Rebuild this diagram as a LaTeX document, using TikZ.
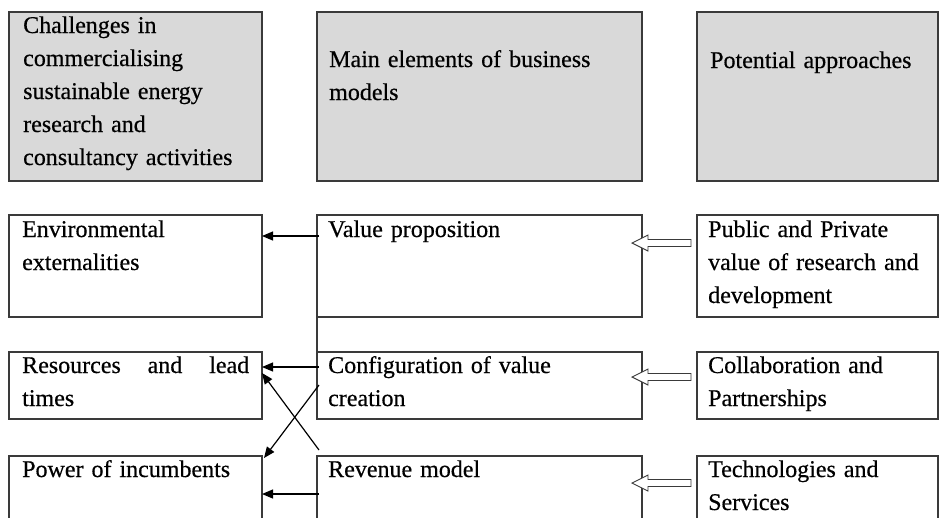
\documentclass[tikz,border=0pt]{standalone}
\usepackage{fontspec}
\setmainfont[FakeBold=0.5]{Liberation Serif}
\usetikzlibrary{arrows.meta}
\definecolor{hdrgray}{HTML}{D9D9D9}
\definecolor{edgegray}{HTML}{3A3A3A}
\begin{document}
\begin{tikzpicture}[x=1pt,y=-1pt,
  box/.style={draw=edgegray, line width=1.3pt, inner sep=0pt, outer sep=0pt, anchor=north west},
  hdr/.style={box, fill=hdrgray},
  txt/.style={anchor=base west, inner sep=0pt, text width=#1, align=left,
    font=\fontsize{24pt}{33pt}\selectfont},
  txt/.default=235pt,
  arr/.style={line width=1.2pt, black, -{Triangle[length=11pt,width=9pt]}},
  hollow/.style={draw=edgegray, line width=0.9pt, fill=white, line join=miter},
  blockarr/.pic={\draw[hollow] (-6,-3.5) -- (-49,-3.5) -- (-49,-8) -- (-65,0)
      -- (-49,8) -- (-49,3.5) -- (-6,3.5) -- cycle;}
]
\useasboundingbox (0,0) rectangle (939,517);
\clip (0,0) rectangle (939,517);

% header row
\node[hdr, minimum width=253pt, minimum height=169pt] (h1) at (9,12) {};
\node[hdr, minimum width=325pt, minimum height=169pt] (h2) at (317,12) {};
\node[hdr, minimum width=241pt, minimum height=169pt] (h3) at (697,12) {};

% row 1
\node[box, minimum width=253pt, minimum height=102pt] (l1) at (9,215) {};
\node[box, minimum width=325pt, minimum height=102pt] (m1) at (317,215) {};
\node[box, minimum width=241pt, minimum height=102pt] (r1) at (697,215) {};
% row 2
\node[box, minimum width=253pt, minimum height=67pt] (l2) at (9,352) {};
\node[box, minimum width=325pt, minimum height=67pt] (m2) at (317,352) {};
\node[box, minimum width=241pt, minimum height=67pt] (r2) at (697,352) {};
% row 3
\node[box, minimum width=253pt, minimum height=90pt] (l3) at (9,456) {};
\node[box, minimum width=325pt, minimum height=90pt] (m3) at (317,456) {};
\node[box, minimum width=241pt, minimum height=90pt] (r3) at (697,456) {};

% texts
\node[txt] (th1) at ([xshift=14pt,yshift=-21pt]h1.north west)
  {Challenges in\\commercialising\\sustainable energy\\research and\\consultancy activities};
\node[txt=300pt] (th2) at ([xshift=12pt,yshift=-55pt]h2.north west)
  {Main elements of business\\models};
\node[txt=225pt] (th3) at ([xshift=13pt,yshift=-56pt]h3.north west)
  {Potential approaches};

\node[txt] (tl1) at ([xshift=13pt,yshift=-22pt]l1.north west) {Environmental\\externalities};
\node[txt=300pt] (tm1) at ([xshift=11pt,yshift=-22pt]m1.north west) {Value proposition};
\node[txt=225pt] (tr1) at ([xshift=11pt,yshift=-22pt]r1.north west)
  {Public and Private\\value of research and\\development};

\node[txt] (tl2) at ([xshift=13pt,yshift=-21pt]l2.north west)
  {\makebox[227pt][l]{Resources\hfill and\hfill lead}\\times};
\node[txt=300pt] (tm2) at ([xshift=11pt,yshift=-21pt]m2.north west)
  {Configuration of value\\creation};
\node[txt=225pt] (tr2) at ([xshift=11pt,yshift=-21pt]r2.north west)
  {Collaboration and\\Partnerships};

\node[txt] (tl3) at ([xshift=13pt,yshift=-21pt]l3.north west) {Power of incumbents};
\node[txt=300pt] (tm3) at ([xshift=11pt,yshift=-21pt]m3.north west) {Revenue model};
\node[txt=225pt] (tr3) at ([xshift=11pt,yshift=-21pt]r3.north west)
  {Technologies and\\Services};

% vertical link between the first two middle boxes
\draw[draw=edgegray, line width=1.3pt] (m1.south west) -- (m2.north west);

% arrows to the challenges
\draw[arr] ([xshift=2pt,yshift=-21pt]m1.north west) -- ([yshift=-21pt]l1.north east);
\draw[arr] ([xshift=2pt,yshift=-15pt]m2.north west) -- ([yshift=-15pt]l2.north east);
\draw[arr] ([xshift=2pt,yshift=-38pt]m3.north west) -- ([yshift=-38pt]l3.north east);
\draw[arr] ([xshift=2pt,yshift=-33pt]m2.north west) -- ([xshift=2pt,yshift=-2pt]l3.north east);
\draw[arr] ([xshift=2pt,yshift=6pt]m3.north west) -- ([yshift=-21pt]l2.north east);

% hollow block arrows from approaches to business model elements
\pic at ([yshift=-28pt]r1.north west) {blockarr};
\pic at ([yshift=-25pt]r2.north west) {blockarr};
\pic at ([yshift=-27pt]r3.north west) {blockarr};
\end{tikzpicture}
\end{document}
